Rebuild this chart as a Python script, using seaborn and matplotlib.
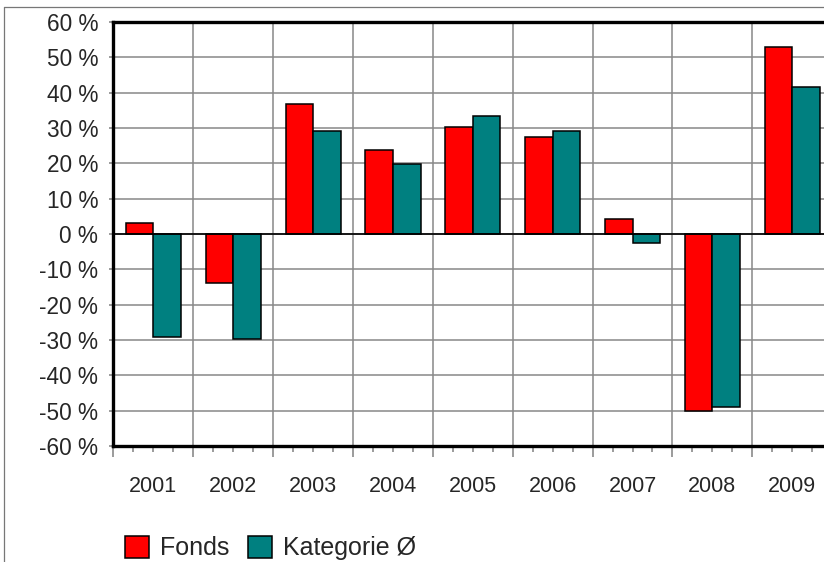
import pandas as pd
import seaborn as sns
import matplotlib.pyplot as plt
from matplotlib.lines import Line2D
from matplotlib.ticker import FuncFormatter

years = ["2001", "2002", "2003", "2004", "2005", "2006", "2007", "2008", "2009"]
fonds = [3.0, -13.8, 36.8, 23.8, 30.3, 27.4, 4.2, -50.1, 52.9]
kategorie = [-29.2, -29.8, 29.2, 19.7, 33.3, 29.2, -2.5, -48.9, 41.6]
series = ["Fonds", "Kategorie Ø"]
colors = ["#FF0000", "#008080"]
y_ticks = list(range(-60, 61, 10))

df = pd.DataFrame({
    "Jahr": years * 2,
    "Rendite": fonds + kategorie,
    "Serie": [series[0]] * len(years) + [series[1]] * len(years),
})

sns.set_theme(style="white")
plt.rcParams["font.family"] = ["Liberation Sans", "DejaVu Sans"]

fig = plt.figure(figsize=(8.24, 5.62), dpi=100)
# plot area runs past the right edge, like in the original
ax = fig.add_axes([0.1377, 0.2064, 0.8722, 0.7545])

sns.barplot(data=df, x="Jahr", y="Rendite", hue="Serie", palette=colors,
            width=0.69, gap=0, edgecolor="black", linewidth=1.1,
            saturation=1, ax=ax)

handles, labels = ax.get_legend_handles_labels()
ax.get_legend().remove()

n = len(years)
ax.set_xlim(-0.5, n - 0.5)
ax.set_ylim(-60, 60)
ax.set_yticks(y_ticks)
ax.yaxis.set_major_formatter(FuncFormatter(lambda v, p: f"{v:.0f} %"))

# major x ticks at category borders (long), minor ticks at quarters carry labels
borders = [i - 0.5 for i in range(n + 1)]
quarters = [i / 4 - 0.5 for i in range(4 * n + 1) if i % 4 != 0]
qlabels = []
for q in quarters:
    if abs(q - round(q)) < 1e-9:
        qlabels.append(years[int(round(q))])
    else:
        qlabels.append("")
ax.set_xticks(borders, labels=[""] * len(borders))
ax.set_xticks(quarters, labels=qlabels, minor=True)
ax.set_xlabel("")
ax.set_ylabel("")

ax.tick_params(axis="x", which="major", length=8, width=1.1, color="#808080",
               direction="out", bottom=True)
ax.tick_params(axis="x", which="minor", length=4.5, width=1.1, color="#808080",
               direction="out", bottom=True, pad=17, labelsize=15.5)
ax.tick_params(axis="y", length=3, width=1.1, color="#808080", direction="out",
               left=True, pad=8, labelsize=16.3)

ax.set_axisbelow(True)
ax.grid(True, which="major", axis="both", color="#888888", linewidth=1.1)
ax.axhline(0, color="black", linewidth=1.2, zorder=1.5)

for side in ["left", "bottom", "top"]:
    ax.spines[side].set_color("black")
    ax.spines[side].set_linewidth(2.4)
ax.spines["right"].set_visible(False)

# thin outer frame
x0 = 4 / 824
y1 = 1 - 7 / 562
fig.add_artist(Line2D([x0, x0], [0, y1], color="#777777", linewidth=0.9))
fig.add_artist(Line2D([x0, 1], [y1, y1], color="#777777", linewidth=0.9))

fig.legend(handles, labels, loc="upper left", bbox_to_anchor=(125 / 824, 1 - 536 / 562),
           ncol=2, frameon=False, fontsize=18, borderpad=0, borderaxespad=0,
           handlelength=0.95, handleheight=0.95, handletextpad=0.45,
           columnspacing=0.75)

fig.savefig("out.png", dpi=100)
